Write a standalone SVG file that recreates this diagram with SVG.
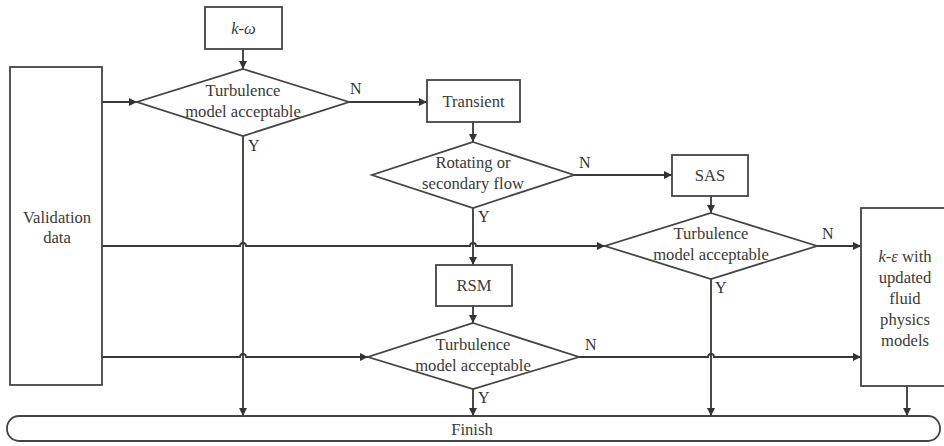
<svg xmlns="http://www.w3.org/2000/svg" width="944" height="446" viewBox="0 0 944 446" font-family="'Liberation Serif', 'Times New Roman', serif">
<defs>
<marker id="ah" viewBox="0 0 10 10" refX="10" refY="5" markerWidth="9" markerHeight="8" markerUnits="userSpaceOnUse" orient="auto">
<path d="M0,0 L10,5 L0,10 z" fill="#333"/>
</marker>
</defs>
<style>
.box{fill:#fff;stroke:#444;stroke-width:1.8}
.ar{fill:none;stroke:#383838;stroke-width:1.8;marker-end:url(#ah)}
text{font-family:'Liberation Serif','Times New Roman',serif}
.t{font-size:16.6px;fill:#3a3a3a;text-anchor:middle}
.lb{font-size:16px;fill:#333}
.i{font-style:italic}
</style>
<rect width="944" height="446" fill="#fff"/>

<g id="connectors">
<path class="ar" d="M243,49 V69"/>
<path class="ar" d="M102,102 H137"/>
<path class="ar" d="M349,102 H427"/>
<path class="ar" d="M473,122 V142"/>
<path class="ar" d="M574,175 H672"/>
<path class="ar" d="M711,196 V213"/>
<path class="ar" d="M817,246 H861"/>
<path class="ar" d="M102,246 H240 a3,3 0 0 1 6,0 H470 a3,3 0 0 1 6,0 H605"/>
<path class="ar" d="M473,208 V265"/>
<path class="ar" d="M473,306 V323"/>
<path class="ar" d="M102,357 H240 a3,3 0 0 1 6,0 H368"/>
<path class="ar" d="M579,357 H708 a3,3 0 0 1 6,0 H861"/>
<path class="ar" d="M243,136 V416"/>
<path class="ar" d="M473,389 V416"/>
<path class="ar" d="M711,279 V416"/>
<path class="ar" d="M907,386 V416"/>
<text class="lb" x="350" y="94">N</text>
<text class="lb" x="248" y="151">Y</text>
<text class="lb" x="579" y="168">N</text>
<text class="lb" x="478" y="222">Y</text>
<text class="lb" x="822" y="239">N</text>
<text class="lb" x="715" y="293">Y</text>
<text class="lb" x="585" y="350">N</text>
<text class="lb" x="478" y="403">Y</text>
</g>

<g id="kw">
<rect class="box" x="205" y="7" width="77" height="42"/>
<text class="t i" x="243.5" y="34">k-ω</text>
</g>

<g id="validation">
<rect class="box" x="10" y="67" width="92" height="318"/>
<text class="t" x="57" y="223">Validation</text>
<text class="t" x="57" y="243">data</text>
</g>

<g id="decision1">
<polygon class="box" points="243,69 349,102 243,136 137,102"/>
<text class="t" x="243" y="96">Turbulence</text>
<text class="t" x="243" y="117">model acceptable</text>
</g>

<g id="transient">
<rect class="box" x="427" y="80" width="93" height="42"/>
<text class="t" x="473.5" y="107">Transient</text>
</g>

<g id="decision2">
<polygon class="box" points="473,142 574,175 473,208 372,175"/>
<text class="t" x="473" y="168">Rotating or</text>
<text class="t" x="473" y="189">secondary flow</text>
</g>

<g id="sas">
<rect class="box" x="672" y="155" width="76" height="41"/>
<text class="t" x="710" y="181">SAS</text>
</g>

<g id="decision4">
<polygon class="box" points="711,213 817,246 711,279 605,246"/>
<text class="t" x="711" y="239">Turbulence</text>
<text class="t" x="711" y="260">model acceptable</text>
</g>

<g id="rsm">
<rect class="box" x="436" y="265" width="76" height="41"/>
<text class="t" x="474" y="291">RSM</text>
</g>

<g id="decision3">
<polygon class="box" points="473,323 579,357 473,389 368,357"/>
<text class="t" x="473" y="350">Turbulence</text>
<text class="t" x="473" y="371">model acceptable</text>
</g>

<g id="ke">
<rect class="box" x="861" y="208" width="92" height="178"/>
<text class="t" x="905" y="262"><tspan class="i">k-ε</tspan> with</text>
<text class="t" x="905" y="283">updated</text>
<text class="t" x="905" y="304">fluid</text>
<text class="t" x="905" y="325">physics</text>
<text class="t" x="905" y="346">models</text>
</g>

<g id="finish">
<rect class="box" x="7" y="416" width="933" height="25" rx="12" ry="12"/>
<text class="t" x="472" y="435">Finish</text>
</g>
</svg>
